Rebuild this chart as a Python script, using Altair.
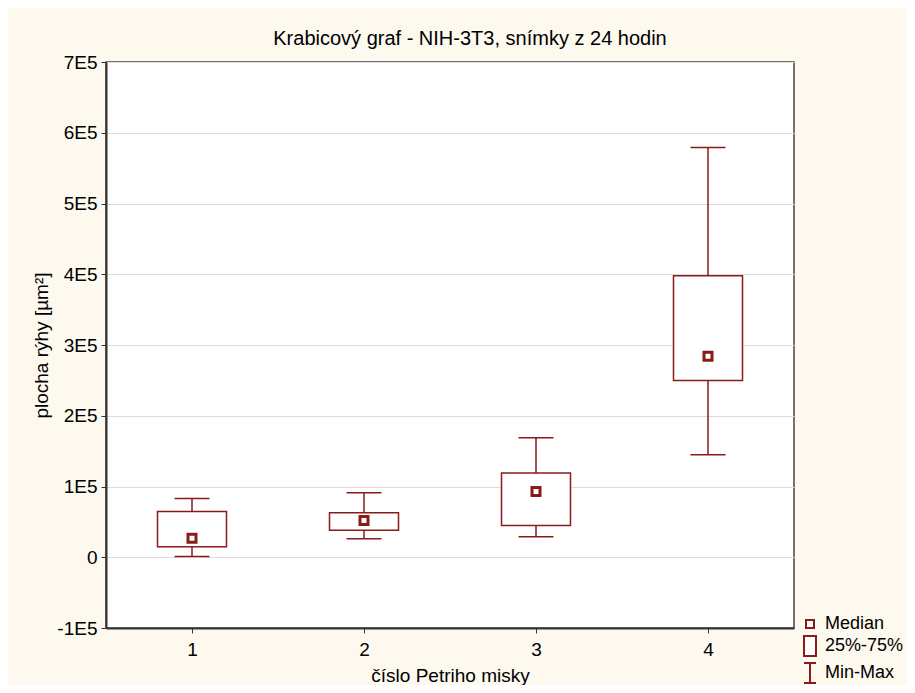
import altair as alt
import pandas as pd

# ---- data ----
dishes = [1, 2, 3, 4]
mins = [1000, 26000, 29000, 145000]
q1s = [14700, 38000, 45000, 250000]
medians = [27000, 52000, 93000, 284000]
q3s = [64500, 63000, 119000, 398000]
maxs = [83000, 91000, 169000, 579000]

y_ticks = [-100000, 0, 100000, 200000, 300000, 400000, 500000, 600000, 700000]
x_ticks = [1, 2, 3, 4]

legend_items = ["Median", "25%-75%", "Min-Max"]
legend_shapes = [
    "M-0.4,-0.4H0.4V0.4H-0.4Z",
    "M-0.6,-1H0.6V1H-0.6Z",
    "M-0.6,-1H0.6M0,-1V1M-0.6,1H0.6",
]

title_text = "Krabicový graf - NIH-3T3, snímky z 24 hodin"
x_title = "číslo Petriho misky"
y_title = "plocha rýhy [µm²]"

DARK_RED = "#8B1A1A"
FONT = "Liberation Sans"

df = pd.DataFrame({
    "dish": dishes,
    "min": mins,
    "q1": q1s,
    "median": medians,
    "q3": q3s,
    "max": maxs,
})

x_enc = alt.X(
    "dish:Q",
    scale=alt.Scale(domain=[0.5, 4.5], nice=False, zero=False, padding=0),
    axis=alt.Axis(
        values=x_ticks, format="d", grid=False, title=x_title,
        labelFlush=False, labelPadding=7,
        titleY=53, titleBaseline="alphabetic",
    ),
)
y_scale = alt.Scale(domain=[-100000, 700000], nice=False, zero=False)
y_axis = alt.Axis(
    values=y_ticks, title=y_title,
    labelExpr="datum.value == 0 ? '0' : (datum.value / 100000) + 'E5'",
    labelPadding=4, titleX=-55, titleY=283, titleBaseline="bottom",
    titleAngle=270,
)

legend_cfg = dict(
    title=None, orient="none", legendX=693, legendY=551,
    symbolSize=400, symbolFillColor="white", symbolStrokeWidth=2,
    labelFontSize=18, labelFont=FONT, labelColor="black",
    labelOffset=4, rowPadding=-1, padding=0,
)

base = alt.Chart(df)

whisker_top = base.mark_rule(color=DARK_RED, strokeWidth=1.5).encode(
    x=x_enc,
    y=alt.Y("max:Q", scale=y_scale, axis=y_axis),
    y2="q3:Q",
)
whisker_bot = base.mark_rule(color=DARK_RED, strokeWidth=1.5).encode(
    x="dish:Q", y="q1:Q", y2="min:Q",
)
cap_top = base.mark_tick(orient="horizontal", size=35, thickness=1.5,
                         color=DARK_RED, opacity=1).encode(
    x="dish:Q", y="max:Q",
)
cap_bot = base.mark_tick(orient="horizontal", size=35, thickness=1.5,
                         color=DARK_RED, opacity=1).encode(
    x="dish:Q", y="min:Q",
)
boxes = base.mark_bar(size=69, fill="white", stroke=DARK_RED,
                      strokeWidth=1.5).encode(
    x="dish:Q", y="q1:Q", y2="q3:Q",
)
med = base.transform_calculate(kind="'Median'").mark_point(
    filled=False, fill="white", fillOpacity=1,
    strokeWidth=3, size=400, opacity=1,
).encode(
    x="dish:Q",
    y="median:Q",
    shape=alt.Shape(
        "kind:N",
        scale=alt.Scale(domain=legend_items, range=legend_shapes),
        legend=alt.Legend(**legend_cfg),
    ),
    stroke=alt.Stroke(
        "kind:N",
        scale=alt.Scale(domain=legend_items,
                        range=[DARK_RED, DARK_RED, DARK_RED]),
        legend=alt.Legend(**legend_cfg),
    ),
)

chart = alt.layer(
    whisker_top, whisker_bot, cap_top, cap_bot, boxes, med
).properties(
    width=688,
    height=566,
    autosize=alt.AutoSizeParams(type="none"),
    padding={"left": 98, "top": 54, "right": 113, "bottom": 57},
    background="#fdf9ef",
    title=alt.Title(
        title_text, fontSize=20, font=FONT, fontWeight="normal",
        color="black", dx=20, offset=-12, baseline="alphabetic",
        anchor="middle",
    ),
).configure_view(
    fill="white", stroke="#444444", strokeWidth=1.5,
).configure_axis(
    labelFont=FONT, labelFontSize=19, labelColor="black",
    titleFont=FONT, titleFontSize=19, titleFontWeight="normal",
    titleColor="black", domainColor="#333333", domainWidth=2,
    tickColor="#333333", tickSize=5, gridColor="#dcdcdc", gridWidth=1,
    labelOverlap=False,
)

chart.save("out.html", embed_options={"renderer": "svg", "actions": False})
